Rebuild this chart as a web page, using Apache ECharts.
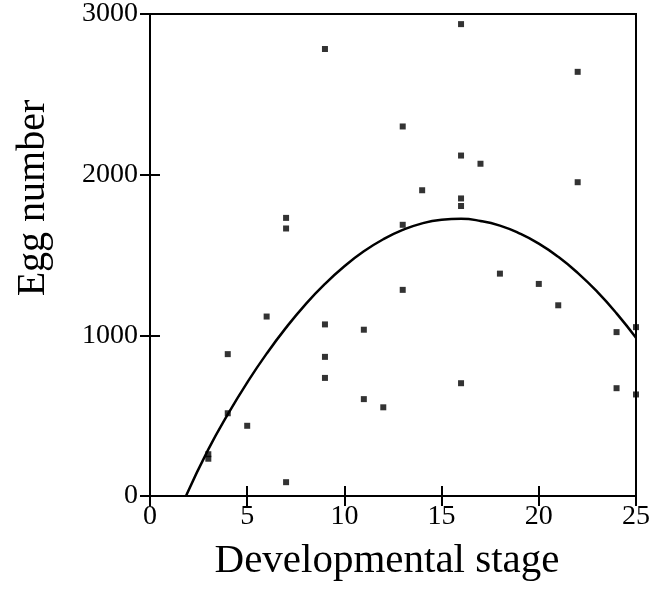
<!DOCTYPE html>
<html>
<head>
<meta charset="utf-8">
<script src="https://cdn.jsdelivr.net/npm/echarts@6/dist/echarts.min.js"></script>
<style>
  html, body { margin: 0; padding: 0; background: #fff; }
  #chart { width: 660px; height: 592px; }
</style>
</head>
<body>
<div id="chart"></div>
<script>
// observed egg counts per developmental stage
var stageX = [3, 3, 4, 4, 5, 6, 7, 7, 7, 9, 9, 9, 9, 11, 11, 12, 13, 13, 13, 14,
              16, 16, 16, 16, 16, 17, 18, 20, 21, 22, 22, 24, 24, 25, 25];
var eggY   = [260, 232, 883, 515, 437, 1117, 1731, 1665, 86, 2782, 1068, 866, 735, 1035, 603, 552, 2300, 1688, 1283, 1903,
              2937, 2119, 1852, 1805, 702, 2068, 1384, 1320, 1187, 2640, 1953, 1020, 671, 1051, 632];

// fitted curve
var curveX = [1.85, 3, 4, 5, 6, 7, 8, 9, 10, 11, 12, 13, 14, 15, 16, 17, 18, 19, 20, 21, 22, 23, 24, 25];
var curveY = [0, 290, 508, 706, 886, 1048, 1193, 1320, 1430, 1523, 1598, 1656, 1697, 1719, 1725, 1712, 1683, 1635, 1571, 1489, 1389, 1272, 1137, 985];

var xTicks = [0, 5, 10, 15, 20, 25];
var yTicks = [0, 1000, 2000, 3000];

var font = '"Liberation Serif", "DejaVu Serif", serif';

var points = stageX.map(function (x, i) { return [x, eggY[i]]; });
var curve = curveX.map(function (x, i) { return [x, curveY[i]]; });

var chart = echarts.init(document.getElementById('chart'));

var option = {
    animation: false,
    backgroundColor: '#fff',
    grid: {
        left: 150, right: 24, top: 10, bottom: 96,
        show: true, borderColor: '#000', borderWidth: 2
    },
    graphic: [{
        type: 'text',
        x: 33, y: 198,
        rotation: Math.PI / 2,
        style: {
            text: 'Egg number',
            font: '40px ' + font,
            fill: '#000',
            align: 'center',
            verticalAlign: 'middle'
        }
    }],
    xAxis: [{
        type: 'value',
        min: xTicks[0], max: xTicks[xTicks.length - 1], interval: 5,
        position: 'bottom',
        name: 'Developmental stage',
        nameLocation: 'middle',
        nameGap: 45,
        nameTextStyle: { fontFamily: font, fontSize: 41, color: '#000', padding: [0, 12, 0, 0] },
        axisLine: { show: true, lineStyle: { color: '#000', width: 2 } },
        axisTick: { show: true, inside: true, length: 10, lineStyle: { color: '#000', width: 2 } },
        axisLabel: { fontFamily: font, fontSize: 28, color: '#000', margin: 7, formatter: function (v) { return String(v); } },
        splitLine: { show: false }
    }, {
        type: 'value',
        min: xTicks[0], max: xTicks[xTicks.length - 1], interval: 5,
        position: 'top',
        axisLine: { show: true, lineStyle: { color: '#000', width: 2 } },
        axisTick: { show: true, inside: true, length: 10, lineStyle: { color: '#000', width: 2 } },
        axisLabel: { show: false },
        splitLine: { show: false }
    }],
    yAxis: [{
        type: 'value',
        min: yTicks[0], max: yTicks[yTicks.length - 1], interval: 1000,
        position: 'left',
        axisLine: { show: true, lineStyle: { color: '#000', width: 2 } },
        axisTick: { show: true, inside: true, length: 10, lineStyle: { color: '#000', width: 2 } },
        axisLabel: { fontFamily: font, fontSize: 28, color: '#000', margin: 12, formatter: function (v) { return String(v); } },
        splitLine: { show: false }
    }, {
        type: 'value',
        min: yTicks[0], max: yTicks[yTicks.length - 1], interval: 1000,
        position: 'right',
        axisLine: { show: true, lineStyle: { color: '#000', width: 2 } },
        axisTick: { show: true, inside: true, length: 10, lineStyle: { color: '#000', width: 2 } },
        axisLabel: { show: false },
        splitLine: { show: false }
    }],
    series: [{
        type: 'line',
        data: curve,
        smooth: true,
        showSymbol: false,
        lineStyle: { color: '#000', width: 2.5 },
        z: 3
    }, {
        type: 'scatter',
        data: points,
        symbol: 'rect',
        symbolSize: 6,
        itemStyle: { color: '#000' },
        z: 4
    }]
};

chart.setOption(option);
</script>
</body>
</html>
